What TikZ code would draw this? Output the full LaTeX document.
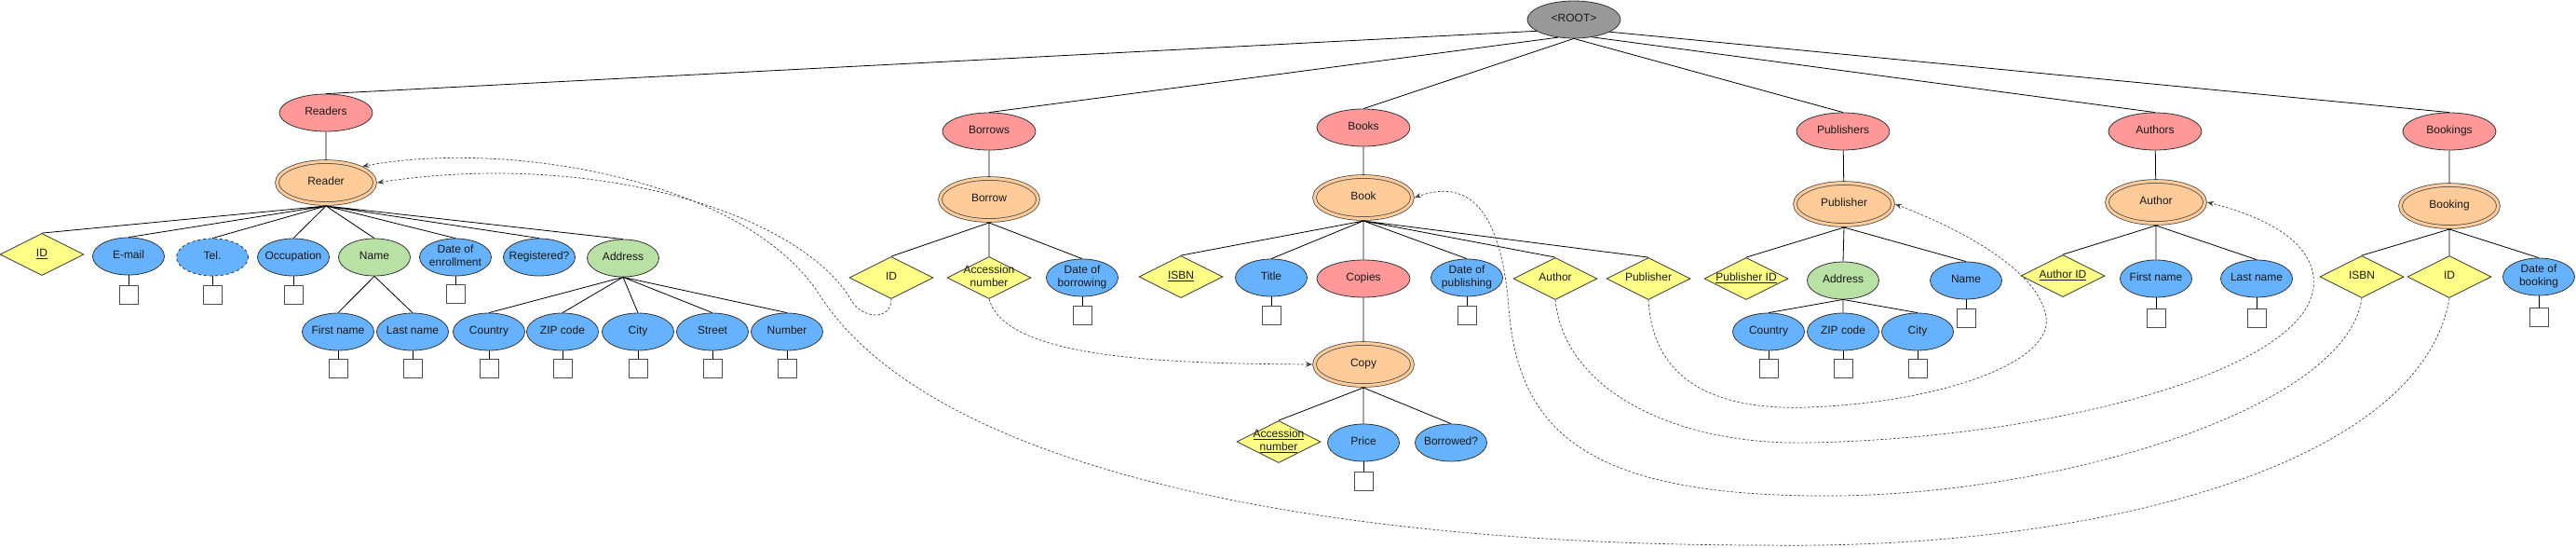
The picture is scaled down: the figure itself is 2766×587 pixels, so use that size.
\documentclass[tikz,border=0pt]{standalone}
\usepackage{fontspec}
\setmainfont{Liberation Sans}
\usepackage{xcolor}
\usetikzlibrary{shapes.geometric,arrows.meta}

\definecolor{SetRed}{HTML}{FF9999}
\definecolor{WeakOrange}{HTML}{FFCC99}
\definecolor{AttrBlue}{HTML}{66B2FF}
\definecolor{CompGreen}{HTML}{B9E0A5}
\definecolor{KeyYellow}{HTML}{FFFF88}
\definecolor{RootGray}{HTML}{999999}

% text that does not widen its shape
\newcommand{\Tx}[1]{\makebox[0pt]{\begin{tabular}{@{}c@{}}#1\end{tabular}}}

\tikzset{
  SetNode/.style={ellipse,draw=black!80,fill=SetRed,minimum width=100pt,minimum height=40pt,inner sep=0pt},
  RootNode/.style={SetNode,fill=RootGray},
  WeakNode/.style={ellipse,draw=black!70,double=WeakOrange,double distance=3pt,fill=WeakOrange,
                   minimum width=105pt,minimum height=45pt,inner sep=0pt,outer sep=2.5pt},
  AttrNode/.style={ellipse,draw=black!80,fill=AttrBlue,minimum width=77pt,minimum height=40pt,inner sep=0pt},
  CompNode/.style={AttrNode,fill=CompGreen},
  KeyNode/.style={diamond,aspect=2,draw=black!80,fill=KeyYellow,minimum width=90pt,minimum height=45pt,inner sep=0pt},
  ValBox/.style={draw=black!70,fill=white,minimum size=20pt,inner sep=0pt},
  TreeLine/.style={draw=black,line width=0.8pt},
  RefLink/.style={draw=black!75,line width=0.7pt,dash pattern=on 2.5pt off 2pt,-{Stealth[length=7pt,width=5.5pt]}}
}

\begin{document}
\begin{tikzpicture}[x=1pt,y=-1pt,line width=0.8pt,font=\fontsize{12}{13.8}\selectfont,text=black!90]
  \useasboundingbox (0,0) rectangle (2766,587);

  % Root and entity sets
  \node[RootNode] (Root) at (1690,21) {\Tx{\textless ROOT\textgreater}};
  \node[SetNode] (Readers) at (350,121) {\Tx{Readers}};
  \node[SetNode] (Borrows) at (1062,141) {\Tx{Borrows}};
  \node[SetNode] (Books) at (1464,137) {\Tx{Books}};
  \node[SetNode] (Publishers) at (1979,141) {\Tx{Publishers}};
  \node[SetNode] (Authors) at (2314,141) {\Tx{Authors}};
  \node[SetNode] (Bookings) at (2630,141) {\Tx{Bookings}};

  \node[WeakNode] (Reader) at (350,196) {\Tx{Reader}};
  \node[WeakNode] (Borrow) at (1062,214) {\Tx{Borrow}};
  \node[WeakNode] (Book) at (1464,212) {\Tx{Book}};
  \node[WeakNode] (Publisher) at (1980,219) {\Tx{Publisher}};
  \node[WeakNode] (Author) at (2315,217) {\Tx{Author}};
  \node[WeakNode] (Booking) at (2630,221) {\Tx{Booking}};

  % Reader
  \node[KeyNode] (ReaderID) at (45,273) {\Tx{\underline{ID}}};
  \node[AttrNode] (ReaderEmail) at (138,275) {\Tx{E-mail}};
  \node[AttrNode,dashed] (ReaderTel) at (228,276) {\Tx{Tel.}};
  \node[AttrNode] (ReaderJob) at (315,276) {\Tx{Occupation}};
  \node[CompNode] (ReaderName) at (402,276) {\Tx{Name}};
  \node[AttrNode] (ReaderDate) at (489,276) {\Tx{Date of\\enrollment}};
  \node[AttrNode] (ReaderReg) at (579,276) {\Tx{Registered?}};
  \node[CompNode] (ReaderAddr) at (669,277) {\Tx{Address}};
  \node[AttrNode] (ReaderFirst) at (363,356) {\Tx{First name}};
  \node[AttrNode] (ReaderLast) at (443,356) {\Tx{Last name}};
  \node[AttrNode] (ReaderCountry) at (525,356) {\Tx{Country}};
  \node[AttrNode] (ReaderZip) at (604,356) {\Tx{ZIP code}};
  \node[AttrNode] (ReaderCity) at (685,356) {\Tx{City}};
  \node[AttrNode] (ReaderStreet) at (765,356) {\Tx{Street}};
  \node[AttrNode] (ReaderNumber) at (845,356) {\Tx{Number}};

  % Borrow
  \node[KeyNode] (BorrowID) at (957,298) {\Tx{ID}};
  \node[KeyNode] (BorrowAcc) at (1062,298) {\Tx{Accession\\number}};
  \node[AttrNode] (BorrowDate) at (1162,298) {\Tx{Date of\\borrowing}};

  % Book and Copy
  \node[KeyNode] (BookISBN) at (1268,297) {\Tx{\underline{ISBN}}};
  \node[AttrNode] (BookTitle) at (1365,298) {\Tx{Title}};
  \node[SetNode] (Copies) at (1464,299) {\Tx{Copies}};
  \node[AttrNode] (BookDate) at (1575,298) {\Tx{Date of\\publishing}};
  \node[KeyNode] (BookAuthor) at (1670,299) {\Tx{Author}};
  \node[KeyNode] (BookPub) at (1770,299) {\Tx{Publisher}};
  \node[WeakNode] (Copy) at (1464,391) {\Tx{Copy}};
  \node[KeyNode] (CopyAcc) at (1373,474) {\Tx{\underline{Accession}\\\underline{number}}};
  \node[AttrNode] (CopyPrice) at (1464,475) {\Tx{Price}};
  \node[AttrNode] (CopyLent) at (1558,475) {\Tx{Borrowed?}};

  % Publisher
  \node[KeyNode] (PubID) at (1875,299) {\Tx{\underline{Publisher ID}}};
  \node[CompNode] (PubAddr) at (1979,301) {\Tx{Address}};
  \node[AttrNode] (PubName) at (2111,301) {\Tx{Name}};
  \node[AttrNode] (PubCountry) at (1899,356) {\Tx{Country}};
  \node[AttrNode] (PubZip) at (1979,356) {\Tx{ZIP code}};
  \node[AttrNode] (PubCity) at (2059,356) {\Tx{City}};

  % Author
  \node[KeyNode] (AuthID) at (2215,296) {\Tx{\underline{Author ID}}};
  \node[AttrNode] (AuthFirst) at (2315,299) {\Tx{First name}};
  \node[AttrNode] (AuthLast) at (2423,299) {\Tx{Last name}};

  % Booking
  \node[KeyNode] (BookingISBN) at (2536,297) {\Tx{ISBN}};
  \node[KeyNode] (BookingID) at (2630,297) {\Tx{ID}};
  \node[AttrNode] (BookingDate) at (2726,297) {\Tx{Date of\\booking}};

  % value boxes
  \node[ValBox] (ReaderEmailBox) at (138,316) {};
  \node[ValBox] (ReaderTelBox) at (228,316) {};
  \node[ValBox] (ReaderJobBox) at (315,316) {};
  \node[ValBox] (ReaderDateBox) at (489,315) {};
  \node[ValBox] (ReaderFirstBox) at (363,395) {};
  \node[ValBox] (ReaderLastBox) at (443,395) {};
  \node[ValBox] (ReaderCountryBox) at (525,395) {};
  \node[ValBox] (ReaderZipBox) at (604,395) {};
  \node[ValBox] (ReaderCityBox) at (685,395) {};
  \node[ValBox] (ReaderStreetBox) at (765,395) {};
  \node[ValBox] (ReaderNumberBox) at (845,395) {};
  \node[ValBox] (BorrowDateBox) at (1162,338) {};
  \node[ValBox] (BookTitleBox) at (1365,338) {};
  \node[ValBox] (BookDateBox) at (1575,338) {};
  \node[ValBox] (CopyPriceBox) at (1464,516) {};
  \node[ValBox] (PubNameBox) at (2111,341) {};
  \node[ValBox] (PubCountryBox) at (1899,395) {};
  \node[ValBox] (PubZipBox) at (1979,395) {};
  \node[ValBox] (PubCityBox) at (2059,395) {};
  \node[ValBox] (AuthFirstBox) at (2315,341) {};
  \node[ValBox] (AuthLastBox) at (2423,341) {};
  \node[ValBox] (BookingDateBox) at (2726,340) {};

  % tree lines
  \draw[TreeLine] (Root.197) -- (Readers.north) (Root.228) -- (Borrows.north)
    (Root.south) -- (Books.north) (Root.south) -- (Publishers.north)
    (Root.316) -- (Authors.north) (Root.341) -- (Bookings.north);
  \draw[TreeLine] (Readers) -- (Reader) (Borrows) -- (Borrow) (Books) -- (Book)
    (Publishers) -- (Publisher) (Authors) -- (Author) (Bookings) -- (Booking) (Copies) -- (Copy);
  \draw[TreeLine] (Reader.south) -- (ReaderID.north) (Reader.south) -- (ReaderEmail.north)
    (Reader.south) -- (ReaderTel.north) (Reader.south) -- (ReaderJob.north)
    (Reader.south) -- (ReaderName.north) (Reader.south) -- (ReaderDate.north)
    (Reader.south) -- (ReaderReg.north) (Reader.south) -- (ReaderAddr.north);
  \draw[TreeLine] (ReaderName.south) -- (ReaderFirst.north) (ReaderName.south) -- (ReaderLast.north);
  \draw[TreeLine] (ReaderAddr.south) -- (ReaderCountry.north) (ReaderAddr.south) -- (ReaderZip.north)
    (ReaderAddr.south) -- (ReaderCity.north) (ReaderAddr.south) -- (ReaderStreet.north)
    (ReaderAddr.south) -- (ReaderNumber.north);
  \draw[TreeLine] (Borrow.south) -- (BorrowID.north) (Borrow.south) -- (BorrowAcc.north)
    (Borrow.south) -- (BorrowDate.north);
  \draw[TreeLine] (Book.south) -- (BookISBN.north) (Book.south) -- (BookTitle.north)
    (Book.south) -- (Copies.north) (Book.south) -- (BookDate.north)
    (Book.south) -- (BookAuthor.north) (Book.south) -- (BookPub.north);
  \draw[TreeLine] (Copy.south) -- (CopyAcc.north) (Copy.south) -- (CopyPrice.north)
    (Copy.south) -- (CopyLent.north);
  \draw[TreeLine] (Publisher.south) -- (PubID.north) (Publisher.south) -- (PubAddr.north)
    (Publisher.south) -- (PubName.north);
  \draw[TreeLine] (PubAddr.south) -- (PubCountry.north) (PubAddr.south) -- (PubZip.north)
    (PubAddr.south) -- (PubCity.north);
  \draw[TreeLine] (Author.south) -- (AuthID.north) (Author.south) -- (AuthFirst.north)
    (Author.south) -- (AuthLast.north);
  \draw[TreeLine] (Booking.south) -- (BookingISBN.north) (Booking.south) -- (BookingID.north)
    (Booking.south) -- (BookingDate.north);

  % value lines
  \draw[TreeLine] (ReaderEmail) -- (ReaderEmailBox) (ReaderTel) -- (ReaderTelBox)
    (ReaderJob) -- (ReaderJobBox) (ReaderDate) -- (ReaderDateBox)
    (ReaderFirst) -- (ReaderFirstBox) (ReaderLast) -- (ReaderLastBox)
    (ReaderCountry) -- (ReaderCountryBox) (ReaderZip) -- (ReaderZipBox)
    (ReaderCity) -- (ReaderCityBox) (ReaderStreet) -- (ReaderStreetBox)
    (ReaderNumber) -- (ReaderNumberBox) (BorrowDate) -- (BorrowDateBox)
    (BookTitle) -- (BookTitleBox) (BookDate) -- (BookDateBox) (CopyPrice) -- (CopyPriceBox)
    (PubName) -- (PubNameBox) (PubCountry) -- (PubCountryBox) (PubZip) -- (PubZipBox)
    (PubCity) -- (PubCityBox) (AuthFirst) -- (AuthFirstBox) (AuthLast) -- (AuthLastBox)
    (BookingDate) -- (BookingDateBox);

  % references
  \draw[RefLink] (BorrowID.south) .. controls (957,345) and (925,342) .. (914,322)
    .. controls (860,230) and (640,160) .. (Reader.east);
  \draw[RefLink] (BorrowAcc.south) .. controls (1080,385) and (1250,390) .. (Copy.west);
  \draw[RefLink] (BookPub.south) .. controls (1775,420) and (1860,440) .. (1942,437)
    .. controls (2080,432) and (2205,390) .. (2197,340)
    .. controls (2188,285) and (2090,240) .. (Publisher.east);
  \draw[RefLink] (BookAuthor.south) .. controls (1680,420) and (1800,478) .. (1942,475)
    .. controls (2200,470) and (2470,400) .. (2484,310)
    .. controls (2490,260) and (2430,232) .. (Author.east);
  \draw[RefLink] (BookingISBN.south) .. controls (2520,440) and (2200,535) .. (1949,532)
    .. controls (1700,530) and (1630,460) .. (1620,330)
    .. controls (1612,230) and (1580,190) .. (Book.east);
  \draw[RefLink] (BookingID.south) .. controls (2600,500) and (2250,590) .. (1897,585)
    .. controls (1400,585) and (1000,500) .. (881,318)
    .. controls (800,190) and (540,150) .. (Reader.24);

\end{tikzpicture}
\end{document}
